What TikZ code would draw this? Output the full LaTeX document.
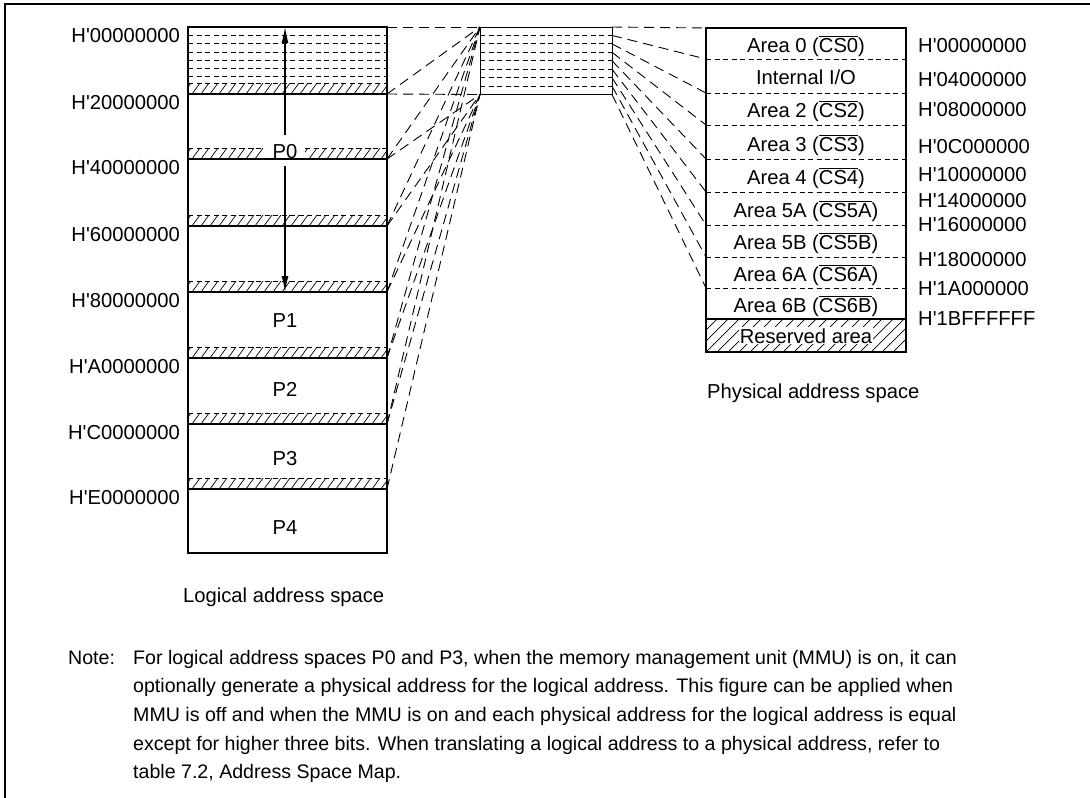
\documentclass[tikz,border=0pt]{standalone}
\usepackage{fontspec}
\setmainfont{Liberation Sans}[Ligatures=TeXOff]
\usetikzlibrary{arrows.meta}
\newcommand\ovl[1]{\ensuremath{\overline{\hbox{#1}}}}
\begin{document}
\begin{tikzpicture}[x=1pt,y=-1pt,
  lbl/.style={font=\fontsize{20.2}{24}\selectfont, inner sep=0pt},
  notetxt/.style={font=\fontsize{19.6}{24}\selectfont, inner sep=0pt},
  conn/.style={line width=0.9pt, dash pattern=on 10pt off 6pt},
  fine/.style={line width=0.8pt, dash pattern=on 5pt off 3.5pt},
  hatchln/.style={line width=0.7pt},
  regline/.style={line width=1.3pt},
  arr/.style={line width=1.2pt, -{Latex[length=16pt,width=7pt]}},
]
\useasboundingbox (0,0) rectangle (1090,798);
% frame
\draw[line width=2pt] (5,798) -- (5,4) -- (1090,4);

% ---------- logical address space ----------
% dashed lines in the first sub-region
\foreach \yy in {35.3,43.6,51.9,60.2,68.5,76.8}
  \draw[fine] (188,\yy) -- (387,\yy);
% hatched strips
\foreach \b in {94,226,292,358,424,489} {
  \begin{scope}
    \clip (188,{\b-11}) rectangle (387,\b);
    \foreach \x in {183,192,...,392} \draw[hatchln] (\x,\b) -- ({\x+8},{\b-11});
  \end{scope}
  \draw[fine] (188,{\b-11}) -- (387,{\b-11});
  \draw[regline] (188,\b) -- (387,\b);
}
% P0 strip with gap for label
\begin{scope}
  \clip (188,148) rectangle (263,159) (305,148) rectangle (387,159);
  \foreach \x in {183,192,...,392} \draw[hatchln] (\x,159) -- ({\x+8},148);
\end{scope}
\draw[fine] (188,148) -- (263,148);
\draw[fine] (305,148) -- (387,148);
\draw[regline] (188,159) -- (387,159);
\draw[line width=2.2pt] (188,27) rectangle (387,553);

% labels inside logical space
\node[lbl, anchor=base] (p0) at (285,158) {P0};
\node[lbl, anchor=base] (p1) at (285,327) {P1};
\node[lbl, anchor=base] (p2) at (285,396) {P2};
\node[lbl, anchor=base] (p3) at (285,465) {P3};
\node[lbl, anchor=base] (p4) at (285,534) {P4};
\coordinate (upS) at (285,135);
\coordinate (upE) at (285,27);
\coordinate (dnS) at (285,166);
\coordinate (dnE) at (285,292);
\draw[arr] (upS) -- (upE);
\draw[arr] (dnS) -- (dnE);

% left address labels
\foreach \t/\yy in {00000000/27,20000000/94,40000000/159,60000000/226,80000000/292,A0000000/358,C0000000/424,E0000000/489}
  \node[lbl, anchor=base east] at (180,{\yy+15.5}) {H'\t};

\node[lbl, anchor=base west] (lcap) at (183,602) {Logical address space};

% ---------- middle box ----------
\foreach \k in {1,...,7}
  \draw[fine] (480,{27+8.4375*\k}) -- (612,{27+8.4375*\k});
\draw[line width=1pt] (480,27) rectangle (612,94.5);

% ---------- coordinates ----------
\coordinate (MT) at (480,27);
\coordinate (MB) at (480,94.5);
\foreach \i/\yy in {0/27,1/94,2/159,3/226,4/292,5/358,6/424,7/489}
  \coordinate (L\i) at (387,\yy);
\foreach \k in {0,...,8}
  \coordinate (M\k) at (612,{27+8.4375*\k});
\foreach \k/\yy in {0/28,1/59,2/93,3/125,4/159,5/192,6/225,7/257,8/288}
  \coordinate (Q\k) at (706,\yy);

% logical -> middle connectors
\draw[conn] (L0) -- (MT);
\draw[conn] (L1) -- (MB);
\foreach \i in {1,...,6} \draw[conn] (L\i) -- (MT);
\foreach \i in {2,...,7} \draw[conn] (L\i) -- (MB);
% middle -> physical connectors
\foreach \k in {0,...,8} \draw[conn] (M\k) -- (Q\k);

% ---------- physical address space ----------
\foreach \yy in {59,93,125,159,192,225,257,288}
  \draw[fine] (706,\yy) -- (906,\yy);
\begin{scope}
  \clip (706,319) rectangle (906,352);
  \foreach \x in {662,673,...,910} \draw[hatchln] (\x,352) -- ({\x+33},319);
\end{scope}
\draw[regline] (706,319) -- (906,319);
\node[lbl, anchor=base, fill=white, inner sep=1pt] (res) at (806,343) {Reserved area};
\draw[line width=2.5pt] (706,28) rectangle (906,352);

\node[lbl, anchor=base] (a0) at (806,52) {Area 0 (\ovl{CS0})};
\node[lbl, anchor=base] (io) at (806,84) {Internal I/O};
\node[lbl, anchor=base] (a2) at (806,117) {Area 2 (\ovl{CS2})};
\node[lbl, anchor=base] (a3) at (806,151) {Area 3 (\ovl{CS3})};
\node[lbl, anchor=base] (a4) at (806,184) {Area 4 (\ovl{CS4})};
\node[lbl, anchor=base] (a5a) at (806,217) {Area 5A (\ovl{CS5A})};
\node[lbl, anchor=base] (a5b) at (806,249) {Area 5B (\ovl{CS5B})};
\node[lbl, anchor=base] (a6a) at (806,281) {Area 6A (\ovl{CS6A})};
\node[lbl, anchor=base] (a6b) at (806,312) {Area 6B (\ovl{CS6B})};

% right address labels
\foreach \t/\yy in {00000000/45,04000000/79,08000000/109,0C000000/146,10000000/174,14000000/200,16000000/224,18000000/259,1A000000/288,1BFFFFFF/318}
  \node[lbl, anchor=base west] at (918,{\yy+7.2}) {H'\t};

\node[lbl, anchor=base west] (pcap) at (707,398) {Physical address space};

% ---------- note ----------
\node[notetxt, anchor=base west] (nt) at (68,664) {Note:};
\node[notetxt, anchor=base west] (n1) at (133,664) {For logical address spaces P0 and P3, when the memory management unit (MMU) is on, it can};
\node[notetxt, anchor=base west] (n2) at (133,692.7) {optionally generate a physical address for the logical address. This figure can be applied when};
\node[notetxt, anchor=base west] (n3) at (133,721.4) {MMU is off and when the MMU is on and each physical address for the logical address is equal};
\node[notetxt, anchor=base west] (n4) at (133,750.1) {except for higher three bits. When translating a logical address to a physical address, refer to};
\node[notetxt, anchor=base west] (n5) at (133,778.8) {table 7.2, Address Space Map.};
\end{tikzpicture}
\end{document}
